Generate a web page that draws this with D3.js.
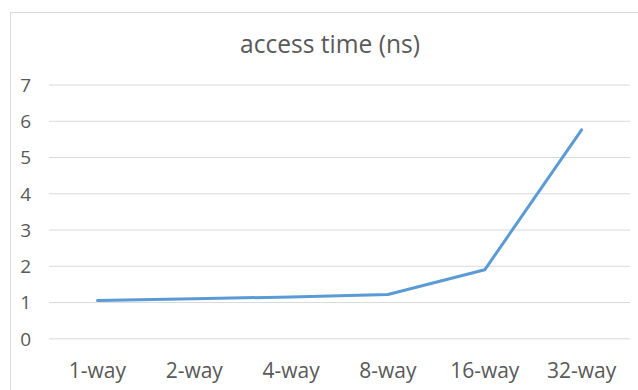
<!DOCTYPE html>
<html>
<head>
<meta charset="utf-8">
<script src="https://cdn.jsdelivr.net/npm/d3@7"></script>
<style>
  html, body { margin: 0; padding: 0; background: #fff; }
  svg { display: block; }
</style>
</head>
<body>
<svg id="chart" width="638" height="390"></svg>
<script>
// Cache associativity vs. access time
const categories = ["1-way", "2-way", "4-way", "8-way", "16-way", "32-way"];
const accessTime = [1.04, 1.09, 1.14, 1.21, 1.89, 5.75];
const yTicks = [0, 1, 2, 3, 4, 5, 6, 7];
const titleText = "access time (ns)";

const FONT = "'Open Sans', 'Noto Sans', sans-serif";
const svg = d3.select("#chart");
const W = 638, H = 390;
const plot = { left: 49, right: 630, top: 84.5, bottom: 338.3 };

// Chart frame (runs past the right and bottom edges)
svg.append("rect")
  .attr("x", 10.5).attr("y", 12.5)
  .attr("width", W + 20).attr("height", H + 20)
  .attr("fill", "#fff")
  .attr("stroke", "#d9d9d9").attr("stroke-width", 1);

const x = d3.scaleBand().domain(categories).range([plot.left, plot.right]).padding(0);
const y = d3.scaleLinear().domain([0, 7]).range([plot.bottom, plot.top]);

// Horizontal gridlines + value labels
const yAxis = d3.axisLeft(y).tickValues(yTicks).tickFormat(d3.format("d"))
  .tickSize(-(plot.right - plot.left)).tickPadding(18);
const gy = svg.append("g").attr("transform", `translate(${plot.left},0)`).call(yAxis)
  .attr("font-family", FONT);
gy.select(".domain").remove();
gy.selectAll(".tick line").attr("stroke", "#d9d9d9").attr("stroke-width", 1);
gy.selectAll(".tick text")
  .attr("fill", "#595959").attr("font-size", 19)
  .attr("dy", "0.36em");

// Category labels
const xAxis = d3.axisBottom(x).tickSize(0).tickPadding(0);
const gx = svg.append("g").attr("transform", `translate(0,${plot.bottom})`).call(xAxis)
  .attr("font-family", FONT);
gx.select(".domain").remove();
gx.selectAll(".tick text")
  .attr("fill", "#595959").attr("font-size", 21)
  .attr("dy", 0).attr("y", 378 - plot.bottom);

// Series line
const line = d3.line()
  .x((d, i) => x(categories[i]) + x.bandwidth() / 2)
  .y(d => y(d));
svg.append("path")
  .datum(accessTime)
  .attr("d", line)
  .attr("fill", "none")
  .attr("stroke", "#5b9bd5")
  .attr("stroke-width", 3)
  .attr("stroke-linejoin", "round")
  .attr("stroke-linecap", "round");

// Title
svg.append("text")
  .attr("x", 330).attr("y", 53.3)
  .attr("text-anchor", "middle")
  .attr("font-family", FONT)
  .attr("fill", "#595959")
  .attr("font-size", 25)
  .attr("textLength", 180)
  .attr("lengthAdjust", "spacingAndGlyphs")
  .text(titleText);
</script>
</body>
</html>
